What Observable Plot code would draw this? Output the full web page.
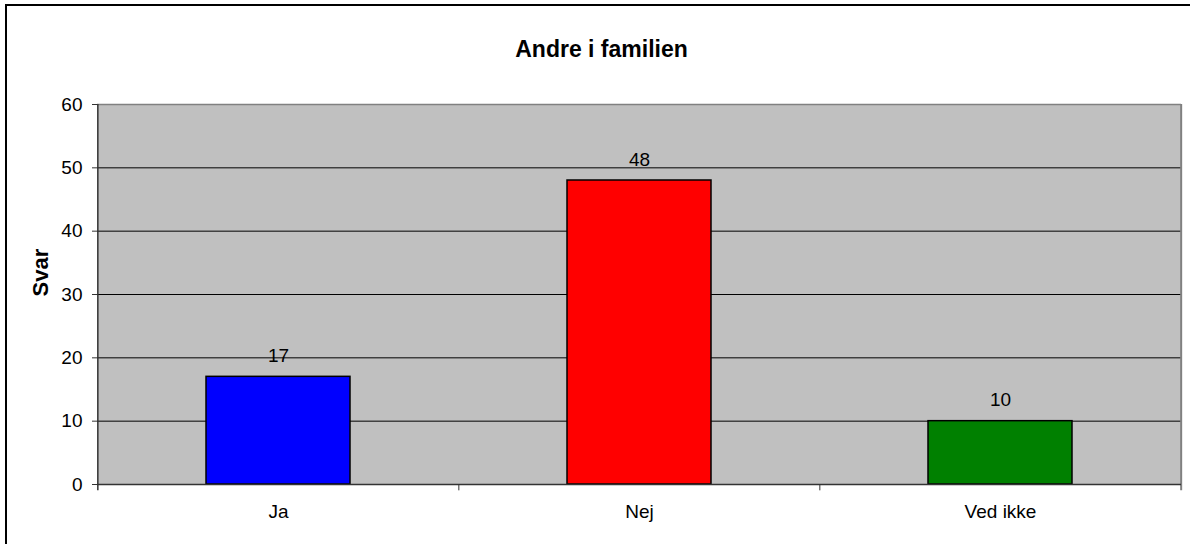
<!DOCTYPE html>
<html>
<head>
<meta charset="utf-8">
<script src="https://cdn.jsdelivr.net/npm/d3@7"></script>
<script src="https://cdn.jsdelivr.net/npm/@observablehq/plot@0.6"></script>
<style>
  html, body { margin: 0; padding: 0; background: #fff; overflow: hidden; width: 1190px; height: 544px; }
  #border { position: absolute; left: 5px; top: 4px; width: 1300px; height: 700px; border: 2px solid #000; }
  #chart { position: absolute; left: 0; top: 0; }
</style>
</head>
<body>
<div id="border"></div>
<div id="chart"></div>
<script>
const title = "Andre i familien";
const yLabel = "Svar";
const categories = ["Ja", "Nej", "Ved ikke"];
const values = [17, 48, 10];
const colors = ["#0000ff", "#ff0000", "#008000"];
const yTicks = [0, 10, 20, 30, 40, 50, 60];
const gridValues = [10, 20, 30, 40, 50];

const data = categories.map((c, i) => ({cat: c, value: values[i], color: colors[i]}));

const W = 1190, H = 544;
const mL = 97, mR = 9, mT = 104, mB = 60;
const step = (W - mL - mR) / categories.length;

const chart = Plot.plot({
  width: W,
  height: H,
  marginLeft: mL,
  marginRight: mR,
  marginTop: mT,
  marginBottom: mB,
  style: {background: "transparent", fontFamily: "'Liberation Sans', Arial, sans-serif", fontSize: "19px", color: "#000"},
  x: {domain: categories, paddingInner: 0.6, paddingOuter: 0.3, label: null},
  y: {domain: [0, 60], label: null},
  color: {type: "identity"},
  marks: [
    Plot.frame({fill: "#c0c0c0", stroke: null}),
    Plot.ruleY(gridValues, {stroke: "#000", strokeWidth: 1}),
    Plot.ruleY([yTicks[yTicks.length - 1]], {stroke: "#808080", strokeWidth: 1.5}),
    Plot.ruleX([categories[categories.length - 1]], {x: d => d, dx: step / 2, y1: -1, y2: 60, stroke: "#808080", strokeWidth: 2}),
    Plot.barY(data, {x: "cat", y: "value", fill: "color", stroke: "#000", strokeWidth: 1.5}),
    Plot.ruleY([0], {stroke: "#333", strokeWidth: 1.5}),
    Plot.ruleX([categories[0]], {x: d => d, dx: -step / 2, y1: -1, y2: 60, stroke: "#333", strokeWidth: 1.5}),
    Plot.ruleX(categories.slice(1), {x: d => d, dx: -step / 2, y1: -1, y2: 0, stroke: "#333", strokeWidth: 1}),
    Plot.text(data, {x: "cat", y: "value", text: d => String(d.value), dy: -21, fill: "#000", fontSize: 19}),
    Plot.axisY({ticks: yTicks, tickSize: 5, tickPadding: 10, label: null, fontSize: 19, stroke: "#333"}),
    Plot.axisX({tickSize: 0, tickPadding: 20, label: null, fontSize: 19}),
    Plot.text([title], {frameAnchor: "top", dx: -38, dy: -64, fontWeight: "bold", fontSize: 23, fill: "#000"}),
    Plot.text([yLabel], {frameAnchor: "left", dx: -57, dy: 2, rotate: -90, fontWeight: "bold", fontSize: 22, fill: "#000"})
  ]
});
document.getElementById("chart").appendChild(chart);
</script>
</body>
</html>
